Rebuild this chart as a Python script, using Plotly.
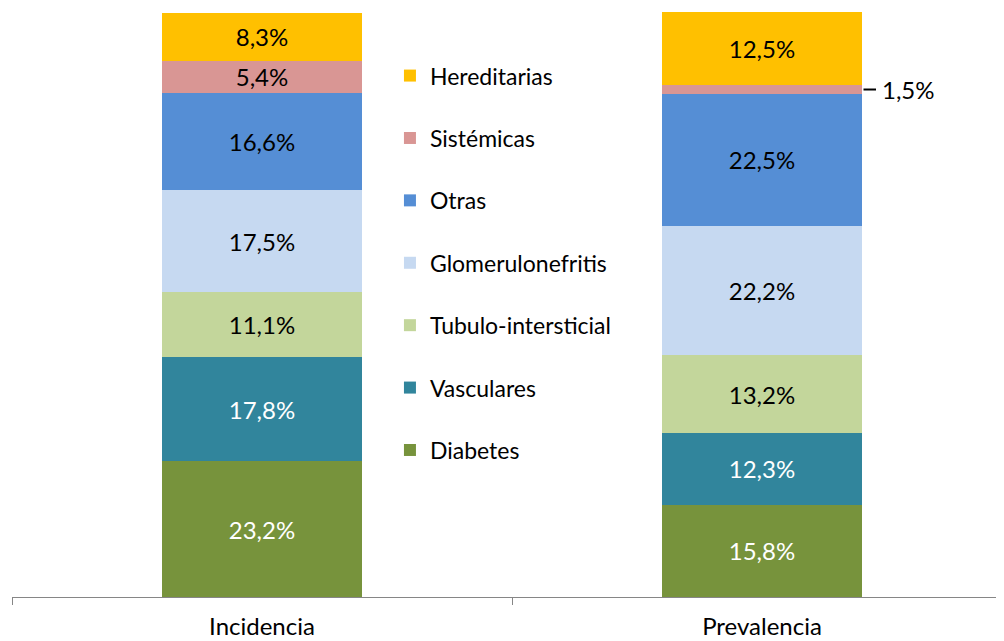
import plotly.graph_objects as go

categories = ["Incidencia", "Prevalencia"]
series_names = ["Diabetes", "Vasculares", "Tubulo-intersticial", "Glomerulonefritis",
                "Otras", "Sistémicas", "Hereditarias"]
diabetes = [23.2, 15.8]
vasculares = [17.8, 12.3]
tubulo = [11.1, 13.2]
glomerulo = [17.5, 22.2]
otras = [16.6, 22.5]
sistemicas = [5.4, 1.5]
hereditarias = [8.3, 12.5]

values = [diabetes, vasculares, tubulo, glomerulo, otras, sistemicas, hereditarias]
colors = ["#77933C", "#31859C", "#C3D69B", "#C6D9F1", "#558ED5", "#D99694", "#FFC000"]
text_colors = ["white", "white", "black", "black", "black", "black", "black"]

FONT = "Lato"
FS = 24
LEG_FS = 23

def fmt(v):
    return f"{v:.1f}%".replace(".", ",")

fig = go.Figure()
n = len(series_names)
for i, (name, vals, col, tcol) in enumerate(zip(series_names, values, colors, text_colors)):
    texts = [fmt(v) for v in vals]
    if name == "Sistémicas":
        texts[1] = ""  # shown outside with leader line
    fig.add_trace(go.Bar(
        x=categories, y=vals, name=name, marker=dict(color=col, line=dict(width=0)),
        text=texts, textposition="inside", insidetextanchor="middle",
        textfont=dict(family=FONT, size=FS, color=tcol), constraintext="none",
        legendgroup=name, legendrank=1000 + (n - i), hoverinfo="skip",
    ))

# outside label for small Prevalencia "Sistémicas" segment
ycenter = sum(v[1] for v in values[:5]) + sistemicas[1] / 2
fig.add_shape(type="line", xref="x", yref="y", x0=1.203, x1=1.228, y0=ycenter, y1=ycenter,
              line=dict(color="black", width=2))
fig.add_annotation(x=1.235, y=ycenter, xref="x", yref="y", text=fmt(sistemicas[1]),
                   showarrow=False, xanchor="left", yanchor="middle",
                   font=dict(family=FONT, size=FS, color="black"))

fig.update_layout(
    width=996, height=633,
    barmode="stack", bargap=0.6,
    plot_bgcolor="white", paper_bgcolor="white",
    margin=dict(l=4, r=0, t=4, b=44),
    font=dict(family=FONT, size=FS, color="black"),
    showlegend=True,
    legend=dict(x=0.381, y=0.928, xanchor="left", yanchor="top",
                traceorder="grouped", tracegroupgap=29.5,
                font=dict(family=FONT, size=LEG_FS, color="black"),
                bgcolor="rgba(0,0,0,0)", itemwidth=30),
    xaxis=dict(range=[-0.5, 1.484], showline=True, linecolor="#868686", linewidth=1,
               ticks="outside", tickson="boundaries", ticklen=7, tickcolor="#868686",
               tickfont=dict(family=FONT, size=FS, color="black"), showgrid=False,
               ticklabelstandoff=8, fixedrange=True),
    yaxis=dict(range=[0, 100], visible=False, showgrid=False, fixedrange=True),
)

fig.write_html("out.html")
